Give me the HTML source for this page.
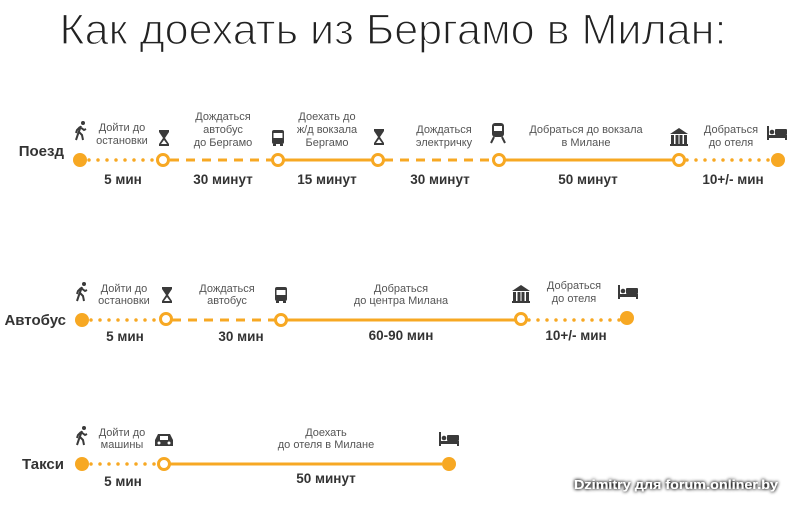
<!DOCTYPE html>
<html><head><meta charset="utf-8"><style>
html,body{margin:0;padding:0;background:#fff;}
svg{display:block;}
.t{font-family:"Liberation Sans",sans-serif;}
.s{font-size:11px;fill:#555;text-anchor:middle;}
.b{font-size:13.5px;font-weight:bold;fill:#333;text-anchor:middle;}
.r{font-size:15px;font-weight:bold;fill:#333;text-anchor:end;}
.dot{stroke:#f7a823;stroke-width:3.5;stroke-linecap:round;stroke-dasharray:0 9;fill:none}
.dash{stroke:#f7a823;stroke-width:3;stroke-dasharray:9 7;fill:none}
.sol{stroke:#f7a823;stroke-width:3;fill:none}
.h{fill:#fff;stroke:#f7a823;stroke-width:3}
.f{fill:#f7a823}
.i{fill:#3a3a3a}
</style></head><body>
<svg width="800" height="507" viewBox="0 0 800 507" xmlns="http://www.w3.org/2000/svg">
<defs>
<g id="walk"><circle cx="3" cy="-12" r="2" class="i"/><path d="M1 -9 L-2 -1 L-4 5 M-1 -3 L2 0 L3 5 M0 -8 L4 -5 L6 -6 M0 -8 L-3 -5 L-4 -2" stroke="#3a3a3a" stroke-width="2" fill="none"/></g>
<g id="hg"><path d="M-5 -9 H5 V-7 L1 -1 L5 5 V7 H-5 V5 L-1 -1 L-5 -7 Z" fill="#3a3a3a"/><path d="M-3 5 L0 1 L3 5Z" fill="#fff"/></g>
<g id="bus"><rect x="-6" y="-9" width="12" height="14" rx="2" class="i"/><rect x="-4.5" y="-6" width="9" height="5" fill="#fff"/><rect x="-5" y="5" width="3" height="2" class="i"/><rect x="2" y="5" width="3" height="2" class="i"/></g>
<g id="train"><rect x="-6" y="-11" width="12" height="14" rx="3" class="i"/><rect x="-4" y="-8" width="8" height="5" fill="#fff"/><path d="M-4 3 L-7 9 M4 3 L7 9" stroke="#3a3a3a" stroke-width="2"/></g>
<g id="bank"><path d="M-9 -4 L0 -10 L9 -4Z" class="i"/><rect x="-8" y="-3" width="3" height="9" class="i"/><rect x="-3.5" y="-3" width="3" height="9" class="i"/><rect x="0.5" y="-3" width="3" height="9" class="i"/><rect x="5" y="-3" width="3" height="9" class="i"/><rect x="-9" y="6" width="18" height="2" class="i"/></g>
<g id="bed"><rect x="-10" y="-9" width="2" height="14" class="i"/><circle cx="-5" cy="-3" r="2.3" class="i"/><rect x="-2" y="-6" width="12" height="6" rx="1" class="i"/><rect x="-10" y="0" width="20" height="3" class="i"/><rect x="8" y="0" width="2" height="5" class="i"/></g>
<g id="car"><path d="M-6 -6 H6 L9 0 V6 H-9 V0 Z" class="i"/><rect x="-4" y="-4" width="8" height="4" fill="#fff"/><circle cx="-5" cy="3" r="1.5" fill="#fff"/><circle cx="5" cy="3" r="1.5" fill="#fff"/></g>
<filter id="sh" x="-10%" y="-50%" width="120%" height="200%"><feGaussianBlur in="SourceAlpha" stdDeviation="1.8"/><feComponentTransfer><feFuncA type="linear" slope="1.6"/></feComponentTransfer><feMerge><feMergeNode/><feMergeNode in="SourceGraphic"/></feMerge></filter>
</defs>

<text x="393" y="44" class="t" font-size="43" fill="#222" stroke="#fff" stroke-width="1.3" text-anchor="middle" textLength="667" lengthAdjust="spacingAndGlyphs">Как доехать из Бергамо в Милан:</text>

<!-- Row 1 -->
<text x="64" y="156" class="t r">Поезд</text>
<line x1="89" y1="160" x2="157" y2="160" class="dot"/>
<line x1="170" y1="160" x2="272" y2="160" class="dash"/>
<line x1="284" y1="160" x2="372" y2="160" class="sol"/>
<line x1="384" y1="160" x2="493" y2="160" class="dash"/>
<line x1="505" y1="160" x2="673" y2="160" class="sol"/>
<line x1="687" y1="160" x2="770" y2="160" class="dot"/>
<circle cx="80" cy="160" r="7" class="f"/>
<circle cx="163" cy="160" r="5.5" class="h"/>
<circle cx="278" cy="160" r="5.5" class="h"/>
<circle cx="378" cy="160" r="5.5" class="h"/>
<circle cx="499" cy="160" r="5.5" class="h"/>
<circle cx="679" cy="160" r="5.5" class="h"/>
<circle cx="778" cy="160" r="7" class="f"/>
<use href="#walk" x="80" y="135"/><use href="#hg" x="164" y="139"/><use href="#bus" x="278" y="139"/><use href="#hg" x="379" y="138"/><use href="#train" x="498" y="134"/><use href="#bank" x="679" y="138"/><use href="#bed" x="777" y="135"/>
<g class="t s">
<text x="122" y="131">Дойти до</text><text x="122" y="144">остановки</text>
<text x="223" y="120">Дождаться</text><text x="223" y="133">автобус</text><text x="223" y="146">до Бергамо</text>
<text x="327" y="120">Доехать до</text><text x="327" y="133">ж/д вокзала</text><text x="327" y="146">Бергамо</text>
<text x="444" y="133">Дождаться</text><text x="444" y="146">электричку</text>
<text x="586" y="133">Добраться до вокзала</text><text x="586" y="146">в Милане</text>
<text x="731" y="133">Добраться</text><text x="731" y="146">до отеля</text>
</g>
<g class="t b">
<text x="123" y="184">5 мин</text><text x="223" y="184">30 минут</text><text x="327" y="184">15 минут</text><text x="440" y="184">30 минут</text><text x="588" y="184">50 минут</text><text x="733" y="184">10+/- мин</text>
</g>

<!-- Row 2 -->
<text x="66" y="325" class="t r">Автобус</text>
<line x1="91" y1="320" x2="160" y2="320" class="dot"/>
<line x1="172" y1="320" x2="275" y2="320" class="dash"/>
<line x1="287" y1="320" x2="515" y2="320" class="sol"/>
<line x1="529" y1="320" x2="620" y2="320" class="dot"/>
<circle cx="82" cy="320" r="7" class="f"/>
<circle cx="166" cy="319" r="5.5" class="h"/>
<circle cx="281" cy="320" r="5.5" class="h"/>
<circle cx="521" cy="319" r="5.5" class="h"/>
<circle cx="627" cy="318" r="7" class="f"/>
<use href="#walk" x="81" y="296"/><use href="#hg" x="167" y="296"/><use href="#bus" x="281" y="296"/><use href="#bank" x="521" y="295"/><use href="#bed" x="628" y="294"/>
<g class="t s">
<text x="124" y="292">Дойти до</text><text x="124" y="304">остановки</text>
<text x="227" y="292">Дождаться</text><text x="227" y="304">автобус</text>
<text x="401" y="292">Добраться</text><text x="401" y="304">до центра Милана</text>
<text x="574" y="289">Добраться</text><text x="574" y="302">до отеля</text>
</g>
<g class="t b">
<text x="125" y="341">5 мин</text><text x="241" y="341">30 мин</text><text x="401" y="340">60-90 мин</text><text x="576" y="340">10+/- мин</text>
</g>

<!-- Row 3 -->
<text x="64" y="469" class="t r">Такси</text>
<line x1="91" y1="464" x2="158" y2="464" class="dot"/>
<line x1="170" y1="464" x2="442" y2="464" class="sol"/>
<circle cx="82" cy="464" r="7" class="f"/>
<circle cx="164" cy="464" r="5.5" class="h"/>
<circle cx="449" cy="464" r="7" class="f"/>
<use href="#walk" x="81" y="440"/><use href="#car" x="164" y="440"/><use href="#bed" x="449" y="441"/>
<g class="t s">
<text x="122" y="436">Дойти до</text><text x="122" y="448">машины</text>
<text x="326" y="436">Доехать</text><text x="326" y="448">до отеля в Милане</text>
</g>
<g class="t b">
<text x="123" y="486">5 мин</text><text x="326" y="483">50 минут</text>
</g>

<text x="676" y="489" class="t" font-size="12.5" font-weight="bold" fill="#fff" text-anchor="middle" filter="url(#sh)" textLength="204" lengthAdjust="spacingAndGlyphs">Dzimitry для forum.onliner.by</text>
</svg>
</body></html>
